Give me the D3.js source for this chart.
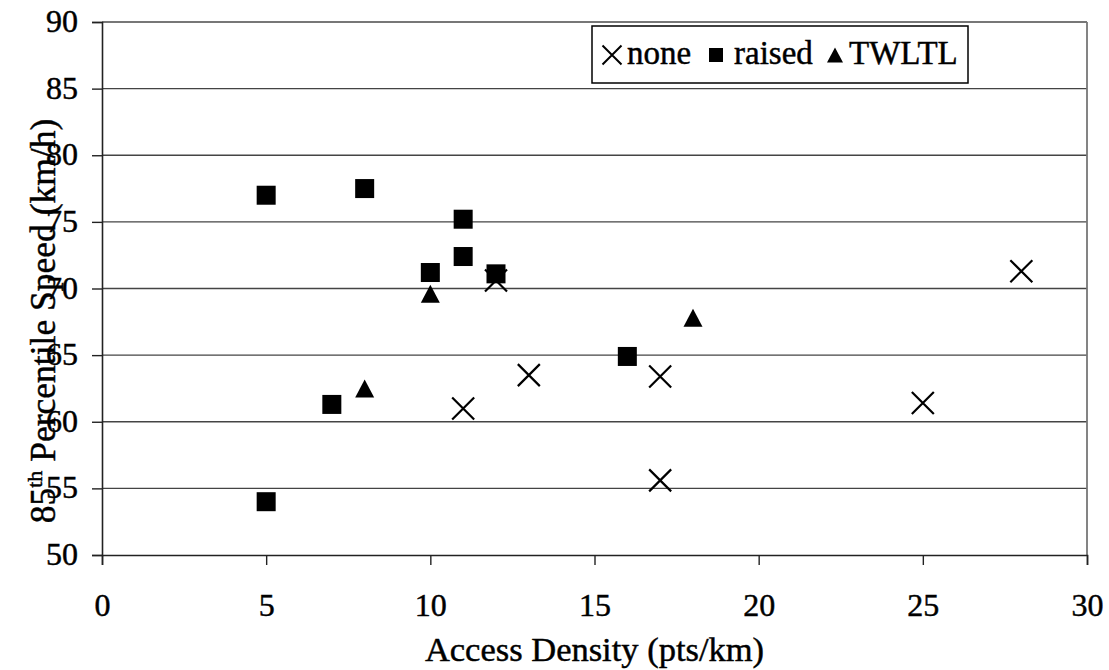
<!DOCTYPE html>
<html>
<head>
<meta charset="utf-8">
<script src="https://cdn.jsdelivr.net/npm/d3@7"></script>
<style>
  body { margin: 0; background: #fff; }
  text { font-family: "Liberation Serif", "Times New Roman", serif; fill: #000; stroke: #000; stroke-width: 0.45px; }
</style>
</head>
<body>
<div class="canvas"></div>
<script>
// data
const noneX = [11, 12, 13, 17, 17, 25, 28];
const noneY = [61.0, 70.6, 63.5, 63.4, 55.6, 61.4, 71.3];
const raisedX = [5, 5, 7, 8, 10, 11, 11, 12, 16];
const raisedY = [77.0, 54.0, 61.3, 77.5, 71.2, 75.2, 72.4, 71.1, 64.9];
const twltlX = [8, 10, 18];
const twltlY = [62.5, 69.6, 67.8];
const xTicks = [0, 5, 10, 15, 20, 25, 30];
const yTicks = [50, 55, 60, 65, 70, 75, 80, 85, 90];
const legendNames = ['none', 'raised', 'TWLTL'];

const svg = d3.select('.canvas')
    .append('svg')
    .attr('width', 1109)
    .attr('height', 670);

const margin = {top: 22, right: 22, bottom: 115, left: 102};
const graphWidth = 1109 - margin.left - margin.right;
const graphHeight = 670 - margin.top - margin.bottom;

const graph = svg.append('g')
    .attr('transform', `translate(${margin.left}, ${margin.top})`);

const x = d3.scaleLinear().domain([0, 30]).range([0, graphWidth]);
const y = d3.scaleLinear().domain([50, 90]).range([graphHeight, 0]);

// gridlines
graph.append('g')
    .selectAll('line')
    .data(yTicks.slice(1, -1))
    .enter().append('line')
        .attr('x1', 0)
        .attr('x2', graphWidth)
        .attr('y1', d => y(d))
        .attr('y2', d => y(d))
        .attr('stroke', '#444')
        .attr('stroke-width', 1.3);

// top and right border (grey, as in the scan)
graph.append('line')
    .attr('x1', 0).attr('x2', graphWidth)
    .attr('y1', 0).attr('y2', 0)
    .attr('stroke', '#777').attr('stroke-width', 1.8);
graph.append('line')
    .attr('x1', graphWidth).attr('x2', graphWidth)
    .attr('y1', 0).attr('y2', graphHeight)
    .attr('stroke', '#777').attr('stroke-width', 1.8);

// axes
const xAxis = d3.axisBottom(x).tickValues(xTicks).tickSize(10).tickPadding(28);
const yAxis = d3.axisLeft(y).tickValues(yTicks).tickSize(10).tickPadding(14);

const xAxisGroup = graph.append('g')
    .attr('transform', `translate(0, ${graphHeight})`)
    .call(xAxis);
const yAxisGroup = graph.append('g').call(yAxis);

[xAxisGroup, yAxisGroup].forEach(g => {
    g.select('.domain').attr('stroke', '#222').attr('stroke-width', 1.6);
    g.selectAll('.tick line').attr('stroke', '#222').attr('stroke-width', 1.4);
    g.selectAll('text')
        .attr('font-family', '"Liberation Serif", serif')
        .attr('font-size', 32)
        .attr('fill', '#000');
});
yAxisGroup.selectAll('text').attr('dy', '0.3em');

// axis titles
svg.append('text')
    .attr('x', margin.left + graphWidth / 2)
    .attr('y', 661)
    .attr('text-anchor', 'middle')
    .attr('font-size', 34.5)
    .text('Access Density (pts/km)');

const yTitle = svg.append('text')
    .attr('transform', 'translate(55, 321) rotate(-90)')
    .attr('text-anchor', 'middle')
    .attr('font-size', 35.5);
yTitle.append('tspan').text('85');
yTitle.append('tspan').attr('dy', -13).attr('font-size', 22).text('th');
yTitle.append('tspan').attr('dy', 13).text(' Percentile Speed (km/h)');

// markers
const crossPath = s => `M${-s},${-s}L${s},${s}M${-s},${s}L${s},${-s}`;

graph.append('g')
    .selectAll('path')
    .data(noneX.map((d, i) => [d, noneY[i]]))
    .enter().append('path')
        .attr('d', crossPath(11))
        .attr('transform', d => `translate(${x(d[0])}, ${y(d[1])})`)
        .attr('fill', 'none')
        .attr('stroke', '#000')
        .attr('stroke-width', 2.2);

graph.append('g')
    .selectAll('rect')
    .data(raisedX.map((d, i) => [d, raisedY[i]]))
    .enter().append('rect')
        .attr('x', d => x(d[0]) - 9.5)
        .attr('y', d => y(d[1]) - 9.5)
        .attr('width', 19)
        .attr('height', 19)
        .attr('fill', '#000');

graph.append('g')
    .selectAll('path')
    .data(twltlX.map((d, i) => [d, twltlY[i]]))
    .enter().append('path')
        .attr('d', 'M0,-9L9.5,9L-9.5,9Z')
        .attr('transform', d => `translate(${x(d[0])}, ${y(d[1])})`)
        .attr('fill', '#000');

// legend
const legend = svg.append('g').attr('transform', 'translate(592, 26)');
legend.append('rect')
    .attr('width', 376)
    .attr('height', 57)
    .attr('fill', '#fff')
    .attr('stroke', '#000')
    .attr('stroke-width', 1.5);

const legendX = [20, 124, 243];
const legendTextX = [35, 142, 257];
legend.append('path')
    .attr('d', crossPath(9.5))
    .attr('transform', `translate(${legendX[0]}, 29)`)
    .attr('stroke', '#000').attr('stroke-width', 2).attr('fill', 'none');
legend.append('rect')
    .attr('x', legendX[1] - 7).attr('y', 22)
    .attr('width', 14).attr('height', 14)
    .attr('fill', '#000');
legend.append('path')
    .attr('d', 'M0,-7.5L8,7.5L-8,7.5Z')
    .attr('transform', `translate(${legendX[2]}, 29)`)
    .attr('fill', '#000');

legend.selectAll('text.lbl')
    .data(legendNames)
    .enter().append('text')
        .attr('class', 'lbl')
        .attr('x', (d, i) => legendTextX[i])
        .attr('y', 38)
        .attr('font-size', 33)
        .text(d => d);
</script>
</body>
</html>
